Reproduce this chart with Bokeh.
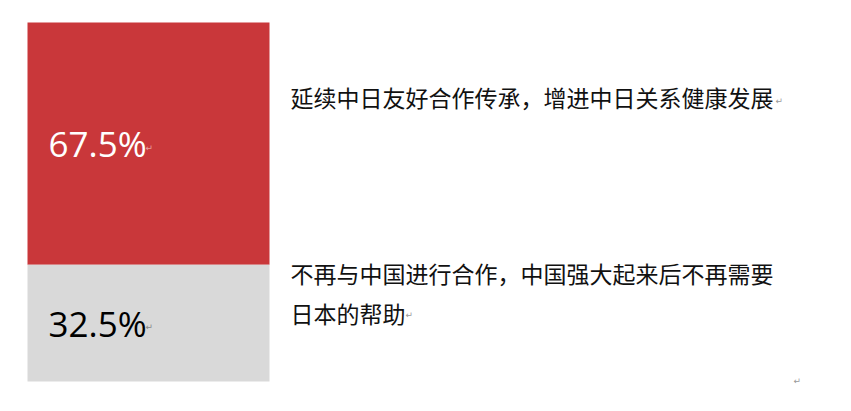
from bokeh.plotting import figure
from bokeh.models import Range1d, ColumnDataSource
from bokeh.core.properties import value
from bokeh.embed import file_html
from bokeh.resources import INLINE

# ---- data ----
answers = ["延续中日友好合作传承，增进中日关系健康发展",
           "不再与中国进行合作，中国强大起来后不再需要日本的帮助"]
answer_lines = [["延续中日友好合作传承，增进中日关系健康发展"],
                ["不再与中国进行合作，中国强大起来后不再需要", "日本的帮助"]]
shares = [67.5, 32.5]
share_labels = ["67.5%", "32.5%"]
colors = ["#C9373A", "#D9D9D9"]
label_colors = ["#FFFFFF", "#000000"]

W, H = 843, 403
PX_X = 242.0                 # px per x unit (bar width 1)
x0 = -0.5 - 27 / PX_X
x1 = x0 + W / PX_X
PX_Y = 359 / 100.0           # px per percent
y0 = -(H - 381) / PX_Y
y1 = 100 + 22 / PX_Y

p = figure(width=W, height=H, output_backend="svg", toolbar_location=None,
           x_range=Range1d(x0, x1), y_range=Range1d(y0, y1), min_border=0,
           outline_line_color=None, background_fill_color="white",
           border_fill_color="white")
p.axis.visible = False
p.grid.visible = False

# stacked: second answer at bottom, first on top
bottoms, tops = [], []
acc = 0.0
for v in reversed(shares):
    bottoms.append(acc)
    acc += v
    tops.append(acc)
bottoms = list(reversed(bottoms))
tops = list(reversed(tops))
mids = [(b + t) / 2 for b, t in zip(bottoms, tops)]

lx = -0.5 + 21 / PX_X
src = ColumnDataSource(dict(x=[0, 0], bottom=bottoms, top=tops, color=colors,
                            mid=mids, lx=[lx, lx],
                            label=share_labels, lc=label_colors))
p.vbar(x="x", width=1, bottom="bottom", top="top", fill_color="color",
       line_color=None, source=src)

p.text(x="lx", y="mid", text="label", text_color="lc", source=src,
       text_font=value("Open Sans"), text_font_size="35px",
       text_align="left", text_baseline="middle")

# paragraph marks after percent labels
pm_x = -0.5 + 118 / PX_X
p.text(x=[pm_x, pm_x], y=[m - 4 / PX_Y for m in mids], text=["↵", "↵"],
       text_color=["#E8A0A0", "#888888"], text_font=value("DejaVu Sans"),
       text_font_size="9px", text_align="left", text_baseline="middle")

# answer texts on the right (pixel positions from top of page)
tx = x0 + 290 / PX_X
line_y_px = [[96], [272, 312]]
txt_x, txt_y, txt = [], [], []
for lines, ys in zip(answer_lines, line_y_px):
    for s, yp in zip(lines, ys):
        txt_x.append(tx)
        txt_y.append(y1 - yp / PX_Y)
        txt.append(s)
p.text(x=txt_x, y=txt_y, text=txt, text_color="#111111",
       text_font=value("Noto Sans CJK SC"), text_font_size="23px",
       text_align="left", text_baseline="middle")

# paragraph marks after answer texts
p.text(x=[x0 + 775 / PX_X, x0 + 405 / PX_X, x0 + 793 / PX_X],
       y=[y1 - 100 / PX_Y, y1 - 314 / PX_Y, y1 - 380 / PX_Y],
       text=["↵", "↵", "↵"], text_color="#999999",
       text_font=value("DejaVu Sans"), text_font_size="9px",
       text_align="left", text_baseline="middle")

open("out.html", "w").write(file_html(p, INLINE))
